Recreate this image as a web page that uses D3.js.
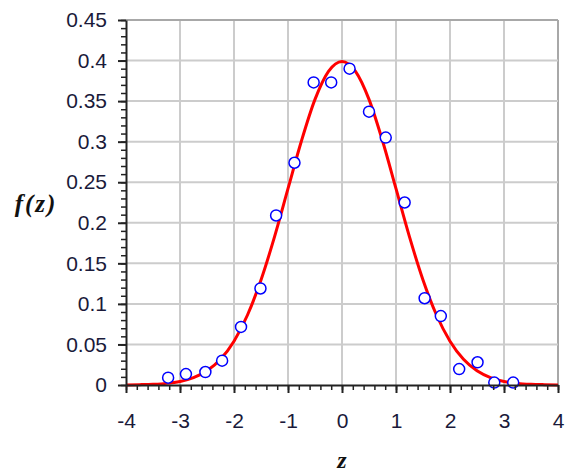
<!DOCTYPE html>
<html lang="en">
<head>
<meta charset="utf-8" />
<title>Normal density</title>
<script src="https://cdn.jsdelivr.net/npm/d3@7"></script>
<style>
  body { margin: 0; background: white; }
  .tick text { font-family: "Liberation Sans", Arial, sans-serif; font-size: 21px; fill: #1a1a3a; }
  .title { font-family: "Liberation Serif", "Times New Roman", serif; font-style: italic; font-weight: bold; fill: #111; }
</style>
</head>
<body>
<script>

// sample points (z, observed density)
var sampleZ = [-3.22, -2.89, -2.53, -2.22, -1.87, -1.51, -1.22, -0.88, -0.525, -0.20,
               0.14, 0.50, 0.81, 1.16, 1.53, 1.83, 2.17, 2.51, 2.82, 3.17];
var sampleF = [0.009, 0.0135, 0.016, 0.030, 0.0716, 0.119, 0.209, 0.274, 0.373, 0.373,
               0.390, 0.337, 0.305, 0.225, 0.107, 0.085, 0.0196, 0.028, 0.003, 0.003];

// fitted curve
var curveZ = [-4, -3.75, -3.5, -3.25, -3, -2.75, -2.5, -2.25, -2, -1.75, -1.5, -1.25, -1, -0.75, -0.5, -0.25,
              0, 0.25, 0.5, 0.75, 1, 1.25, 1.5, 1.75, 2, 2.25, 2.5, 2.75, 3, 3.25, 3.5, 3.75, 4];
var curveF = [0.0001, 0.0004, 0.0009, 0.0020, 0.0044, 0.0091, 0.0175, 0.0317, 0.0540, 0.0863, 0.1295, 0.1826,
              0.2420, 0.3011, 0.3521, 0.3867, 0.3989, 0.3867, 0.3521, 0.3011, 0.2420, 0.1826, 0.1295, 0.0863,
              0.0540, 0.0317, 0.0175, 0.0091, 0.0044, 0.0020, 0.0009, 0.0004, 0.0001];

var xTicks = [-4, -3, -2, -1, 0, 1, 2, 3, 4];
var yTicks = [0, 0.05, 0.1, 0.15, 0.2, 0.25, 0.3, 0.35, 0.4, 0.45];

var w = 572, h = 473;
var pad = {left: 126, right: 14, top: 20, bottom: 88};

var x = d3.scaleLinear().domain([-4, 4]).range([pad.left, w - pad.right]);
var y = d3.scaleLinear().domain([0, 0.45]).range([h - pad.bottom, pad.top]);

var svg = d3.select("body").append("svg")
    .attr("width", w)
    .attr("height", h);

// grid
svg.append("g").selectAll("line")
   .data(xTicks.slice(1))
   .enter().append("line")
   .attr("x1", function(d) { return x(d); })
   .attr("x2", function(d) { return x(d); })
   .attr("y1", y(0)).attr("y2", y(0.45))
   .attr("stroke", function(d) { return d === 4 ? "#a8a8a8" : "#cccccc"; })
   .attr("stroke-width", 2);
svg.append("g").selectAll("line")
   .data(yTicks.slice(1))
   .enter().append("line")
   .attr("x1", x(-4)).attr("x2", x(4))
   .attr("y1", function(d) { return y(d); })
   .attr("y2", function(d) { return y(d); })
   .attr("stroke", function(d) { return d === 0.45 ? "#a8a8a8" : "#cccccc"; })
   .attr("stroke-width", 2);

// curve
var line = d3.line()
    .x(function(d, i) { return x(curveZ[i]); })
    .y(function(d) { return y(d); })
    .curve(d3.curveMonotoneX);
svg.append("path")
   .datum(curveF)
   .attr("d", line)
   .attr("fill", "none")
   .attr("stroke", "#ff0000")
   .attr("stroke-width", 3);

// points
svg.append("g").selectAll("circle")
   .data(sampleF)
   .enter().append("circle")
   .attr("cx", function(d, i) { return x(sampleZ[i]); })
   .attr("cy", function(d) { return y(d); })
   .attr("r", 5.5)
   .attr("fill", "white")
   .attr("stroke", "#0000ff")
   .attr("stroke-width", 1.5);

// axes: minor ticks first, then major with labels
svg.append("g")
   .attr("transform", "translate(0," + y(0) + ")")
   .call(d3.axisBottom(x).ticks(40).tickSize(5).tickFormat(""))
   .call(function(g) { g.select(".domain").remove(); })
   .selectAll("line").attr("stroke", "#222").attr("stroke-width", 1.5);
var xa = svg.append("g")
   .attr("transform", "translate(0," + y(0) + ")")
   .call(d3.axisBottom(x).tickValues(xTicks).tickSize(8).tickSizeOuter(0).tickPadding(20)
         .tickFormat(function(d) { return String(d); }));
xa.select(".domain").attr("stroke", "#222").attr("stroke-width", 2);
xa.selectAll("line").attr("stroke", "#222").attr("stroke-width", 2);

svg.append("g")
   .attr("transform", "translate(" + x(-4) + ",0)")
   .call(d3.axisLeft(y).ticks(45).tickSize(5).tickFormat(""))
   .call(function(g) { g.select(".domain").remove(); })
   .selectAll("line").attr("stroke", "#222").attr("stroke-width", 1.5);
var ya = svg.append("g")
   .attr("transform", "translate(" + x(-4) + ",0)")
   .call(d3.axisLeft(y).tickValues(yTicks).tickSize(8).tickSizeOuter(0).tickPadding(11)
         .tickFormat(function(d) { return String(+d.toFixed(2)); }));
ya.select(".domain").attr("stroke", "#222").attr("stroke-width", 2);
ya.selectAll("line").attr("stroke", "#222").attr("stroke-width", 2);

// axis titles
svg.append("text")
   .attr("class", "title")
   .attr("x", (x(-4) + x(4)) / 2).attr("y", 468)
   .attr("text-anchor", "middle")
   .style("font-size", "24px")
   .text("z");
svg.append("text")
   .attr("class", "title")
   .attr("x", 36).attr("y", 212)
   .attr("text-anchor", "middle")
   .style("font-size", "25px")
   .style("letter-spacing", "2px")
   .text("f(z)");

</script>
</body>
</html>
